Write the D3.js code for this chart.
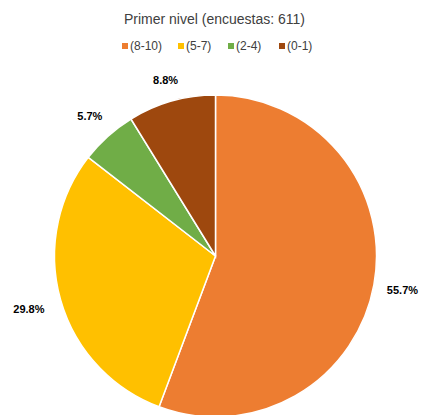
<!DOCTYPE html>
<html><head><meta charset="utf-8">
<script src="https://cdn.jsdelivr.net/npm/d3@7"></script>
<style>body{margin:0;background:#fff;} svg{display:block;}</style>
</head><body>
<svg id="c" width="425" height="415"></svg>
<script>
const categories = ["(8-10)", "(5-7)", "(2-4)", "(0-1)"];
const values = [55.7, 29.8, 5.7, 8.8];
const colors = ["#ED7D31", "#FFC000", "#70AD47", "#9E480E"];
const title = "Primer nivel (encuestas: 611)";

const svg = d3.select("#c");
const W = 425, H = 415;
const cx = 215.5, cy = 256, r = 161;

svg.append("text").attr("x", W/2 + 2).attr("y", 24).attr("text-anchor", "middle")
  .attr("font-family", "Arial, 'Liberation Sans', sans-serif").attr("font-size", 14).attr("fill", "#404040")
  .text(title);

// legend
const legendItems = categories.map((c,i)=>({c, col: colors[i]}));
const lg = svg.append("g").attr("font-family", "Arial, 'Liberation Sans', sans-serif").attr("font-size", 12).attr("fill", "#404040");
const xs = [123, 179, 229, 280];
legendItems.forEach((d,i)=>{
  lg.append("rect").attr("x", xs[i]-1).attr("y", 43).attr("width", 6).attr("height", 6).attr("fill", d.col);
  lg.append("text").attr("x", xs[i]+7).attr("y", 50).text(d.c);
});

const pie = d3.pie().sort(null).value(d=>d)(values);
const arc = d3.arc().innerRadius(0).outerRadius(r);
const g = svg.append("g").attr("transform", `translate(${cx},${cy})`);
g.selectAll("path").data(pie).enter().append("path")
  .attr("d", arc).attr("fill", (d,i)=>colors[i]).attr("stroke", "#fff").attr("stroke-width", 1.5);

const lr = [190, 194, 188, 183];
g.selectAll("text.lbl").data(pie).enter().append("text")
  .attr("class","lbl")
  .attr("x", (d,i)=>Math.sin((d.startAngle+d.endAngle)/2)*lr[i])
  .attr("y", (d,i)=>-Math.cos((d.startAngle+d.endAngle)/2)*lr[i])
  .attr("text-anchor","middle").attr("dominant-baseline","central")
  .attr("font-family", "Arial, 'Liberation Sans', sans-serif").attr("font-size", 11).attr("font-weight","bold").attr("fill","#000")
  .text(d=>d.data.toFixed(1)+"%");
</script>
</body></html>
